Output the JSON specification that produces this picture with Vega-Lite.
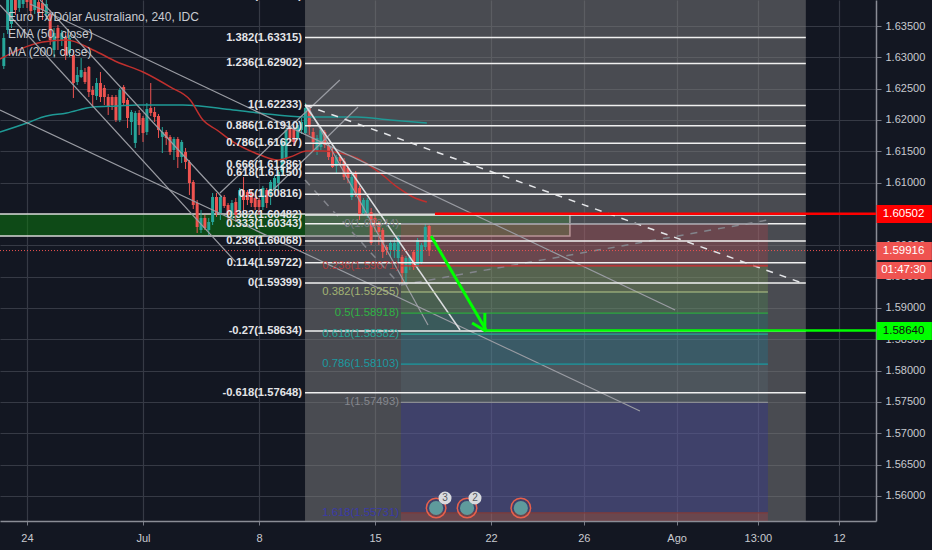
{
  "$schema": "https://vega.github.io/schema/vega-lite/v6.json",
  "width": 876,
  "height": 521,
  "autosize": "none",
  "padding": {"left": 0, "top": 0, "right": 56, "bottom": 29},
  "background": "#131722",
  "config": {"view": {"stroke": null}, "font": "Liberation Sans"},
  "datasets": {
    "candles": [
      {"bar":-6,"o":1.62862,"h":1.63388,"l":1.62814,"c":1.63309},
      {"bar":-5,"o":1.63436,"h":1.63995,"l":1.63372,"c":1.63915},
      {"bar":-4,"o":1.63532,"h":1.63995,"l":1.63468,"c":1.63915},
      {"bar":-3,"o":1.63995,"h":1.64043,"l":1.63676,"c":1.63755},
      {"bar":-2,"o":1.63787,"h":1.64043,"l":1.63723,"c":1.63995},
      {"bar":-1,"o":1.63851,"h":1.64075,"l":1.63787,"c":1.64043},
      {"bar":0,"o":1.64043,"h":1.64075,"l":1.63787,"c":1.63883},
      {"bar":1,"o":1.63995,"h":1.64043,"l":1.63644,"c":1.63739},
      {"bar":2,"o":1.63755,"h":1.63995,"l":1.63692,"c":1.63915},
      {"bar":3,"o":1.63883,"h":1.63947,"l":1.63628,"c":1.63708},
      {"bar":4,"o":1.63867,"h":1.63915,"l":1.63596,"c":1.63755},
      {"bar":5,"o":1.63692,"h":1.63915,"l":1.63596,"c":1.63851},
      {"bar":6,"o":1.63692,"h":1.63755,"l":1.63197,"c":1.63277},
      {"bar":7,"o":1.63117,"h":1.63468,"l":1.63005,"c":1.63388},
      {"bar":8,"o":1.63468,"h":1.63516,"l":1.63117,"c":1.63309},
      {"bar":9,"o":1.63277,"h":1.63436,"l":1.63181,"c":1.63388},
      {"bar":10,"o":1.63325,"h":1.63388,"l":1.62957,"c":1.63037},
      {"bar":11,"o":1.63069,"h":1.63356,"l":1.63005,"c":1.63309},
      {"bar":12,"o":1.63037,"h":1.63117,"l":1.62351,"c":1.6259},
      {"bar":13,"o":1.62606,"h":1.62846,"l":1.62558,"c":1.62718},
      {"bar":14,"o":1.62686,"h":1.62989,"l":1.6267,"c":1.62798},
      {"bar":15,"o":1.62766,"h":1.6283,"l":1.62574,"c":1.62606},
      {"bar":16,"o":1.62846,"h":1.62862,"l":1.62367,"c":1.62447},
      {"bar":17,"o":1.62479,"h":1.62542,"l":1.62207,"c":1.62399},
      {"bar":18,"o":1.62383,"h":1.6267,"l":1.62319,"c":1.6259},
      {"bar":19,"o":1.6259,"h":1.62766,"l":1.62287,"c":1.62367},
      {"bar":20,"o":1.62511,"h":1.62558,"l":1.62239,"c":1.62367},
      {"bar":21,"o":1.62367,"h":1.62415,"l":1.6208,"c":1.62207},
      {"bar":22,"o":1.62367,"h":1.62399,"l":1.62159,"c":1.62239},
      {"bar":23,"o":1.62367,"h":1.62399,"l":1.61968,"c":1.62},
      {"bar":24,"o":1.62,"h":1.62511,"l":1.61968,"c":1.62479},
      {"bar":25,"o":1.62527,"h":1.62558,"l":1.62223,"c":1.62271},
      {"bar":26,"o":1.62319,"h":1.62351,"l":1.61872,"c":1.62032},
      {"bar":27,"o":1.61968,"h":1.62159,"l":1.6176,"c":1.62128},
      {"bar":28,"o":1.61633,"h":1.62144,"l":1.61553,"c":1.62112},
      {"bar":29,"o":1.62112,"h":1.62159,"l":1.6176,"c":1.6192},
      {"bar":30,"o":1.62032,"h":1.62064,"l":1.61649,"c":1.61792},
      {"bar":31,"o":1.61808,"h":1.62271,"l":1.6176,"c":1.62175},
      {"bar":32,"o":1.62191,"h":1.6259,"l":1.62064,"c":1.62112},
      {"bar":33,"o":1.62128,"h":1.62207,"l":1.61968,"c":1.62048},
      {"bar":34,"o":1.62064,"h":1.62096,"l":1.61713,"c":1.6184},
      {"bar":35,"o":1.61729,"h":1.61888,"l":1.61473,"c":1.61808},
      {"bar":36,"o":1.61808,"h":1.6184,"l":1.61601,"c":1.61713},
      {"bar":37,"o":1.61729,"h":1.6176,"l":1.61441,"c":1.61489},
      {"bar":38,"o":1.61521,"h":1.61729,"l":1.61361,"c":1.61697},
      {"bar":39,"o":1.61697,"h":1.61729,"l":1.61234,"c":1.61409},
      {"bar":40,"o":1.61409,"h":1.61681,"l":1.61313,"c":1.61649},
      {"bar":41,"o":1.61489,"h":1.61553,"l":1.61218,"c":1.61329},
      {"bar":42,"o":1.61329,"h":1.61361,"l":1.60803,"c":1.60994},
      {"bar":43,"o":1.6101,"h":1.61042,"l":1.60579,"c":1.60643},
      {"bar":44,"o":1.60675,"h":1.60723,"l":1.60196,"c":1.60292},
      {"bar":45,"o":1.60244,"h":1.60563,"l":1.60196,"c":1.60436},
      {"bar":46,"o":1.60436,"h":1.60484,"l":1.60244,"c":1.60276},
      {"bar":47,"o":1.60244,"h":1.60436,"l":1.60164,"c":1.60372},
      {"bar":48,"o":1.60372,"h":1.60835,"l":1.60324,"c":1.60771},
      {"bar":49,"o":1.60771,"h":1.60835,"l":1.60452,"c":1.60515},
      {"bar":50,"o":1.60515,"h":1.60803,"l":1.60404,"c":1.60771},
      {"bar":51,"o":1.60771,"h":1.60803,"l":1.60595,"c":1.60627},
      {"bar":52,"o":1.60643,"h":1.60675,"l":1.60372,"c":1.60484},
      {"bar":53,"o":1.60484,"h":1.60723,"l":1.60404,"c":1.60675},
      {"bar":54,"o":1.60691,"h":1.60755,"l":1.60372,"c":1.60484},
      {"bar":55,"o":1.60563,"h":1.60915,"l":1.60531,"c":1.60883},
      {"bar":56,"o":1.60883,"h":1.6109,"l":1.60531,"c":1.60723},
      {"bar":57,"o":1.60851,"h":1.60883,"l":1.60643,"c":1.60723},
      {"bar":58,"o":1.60835,"h":1.60883,"l":1.60611,"c":1.60675},
      {"bar":59,"o":1.60755,"h":1.60803,"l":1.60563,"c":1.60611},
      {"bar":60,"o":1.60723,"h":1.60755,"l":1.60484,"c":1.60611},
      {"bar":61,"o":1.60611,"h":1.60947,"l":1.60563,"c":1.60915},
      {"bar":62,"o":1.60883,"h":1.60915,"l":1.60595,"c":1.60675},
      {"bar":63,"o":1.60851,"h":1.61042,"l":1.60643,"c":1.6101},
      {"bar":64,"o":1.60883,"h":1.61106,"l":1.60803,"c":1.61074},
      {"bar":65,"o":1.60994,"h":1.61202,"l":1.60883,"c":1.6117},
      {"bar":66,"o":1.6117,"h":1.61681,"l":1.61122,"c":1.61633},
      {"bar":67,"o":1.61393,"h":1.61872,"l":1.61361,"c":1.6184},
      {"bar":68,"o":1.61872,"h":1.61904,"l":1.61649,"c":1.61713},
      {"bar":69,"o":1.61872,"h":1.6192,"l":1.61585,"c":1.61649},
      {"bar":70,"o":1.61713,"h":1.61952,"l":1.61681,"c":1.6192},
      {"bar":71,"o":1.6184,"h":1.62032,"l":1.61776,"c":1.61968},
      {"bar":72,"o":1.61792,"h":1.62271,"l":1.6176,"c":1.62191},
      {"bar":73,"o":1.62191,"h":1.62223,"l":1.6176,"c":1.61888},
      {"bar":74,"o":1.61808,"h":1.61872,"l":1.61521,"c":1.61649},
      {"bar":75,"o":1.61521,"h":1.6176,"l":1.61441,"c":1.61713},
      {"bar":76,"o":1.61569,"h":1.61872,"l":1.61521,"c":1.6184},
      {"bar":77,"o":1.61808,"h":1.6184,"l":1.61553,"c":1.61601},
      {"bar":78,"o":1.61601,"h":1.61633,"l":1.61361,"c":1.61409},
      {"bar":79,"o":1.61409,"h":1.61569,"l":1.61234,"c":1.6125},
      {"bar":80,"o":1.61266,"h":1.61441,"l":1.61154,"c":1.61409},
      {"bar":81,"o":1.61409,"h":1.61441,"l":1.61282,"c":1.61345},
      {"bar":82,"o":1.61345,"h":1.61393,"l":1.61042,"c":1.6109},
      {"bar":83,"o":1.61234,"h":1.61282,"l":1.60994,"c":1.61074},
      {"bar":84,"o":1.60771,"h":1.61154,"l":1.60723,"c":1.6109},
      {"bar":85,"o":1.61154,"h":1.61186,"l":1.60771,"c":1.60835},
      {"bar":86,"o":1.60915,"h":1.60947,"l":1.60404,"c":1.60484},
      {"bar":87,"o":1.60515,"h":1.60755,"l":1.60484,"c":1.60723},
      {"bar":88,"o":1.60515,"h":1.60755,"l":1.60436,"c":1.60723},
      {"bar":89,"o":1.60531,"h":1.60595,"l":1.60005,"c":1.60037},
      {"bar":90,"o":1.60436,"h":1.60484,"l":1.60212,"c":1.60308},
      {"bar":91,"o":1.60356,"h":1.60388,"l":1.60005,"c":1.60212},
      {"bar":92,"o":1.60244,"h":1.60276,"l":1.59797,"c":1.59893},
      {"bar":93,"o":1.59973,"h":1.60005,"l":1.59845,"c":1.59925},
      {"bar":94,"o":1.59925,"h":1.60085,"l":1.59813,"c":1.60037},
      {"bar":95,"o":1.59925,"h":1.60117,"l":1.59797,"c":1.60037},
      {"bar":96,"o":1.59797,"h":1.60149,"l":1.59733,"c":1.60117},
      {"bar":97,"o":1.59813,"h":1.59845,"l":1.59398,"c":1.59558},
      {"bar":98,"o":1.59558,"h":1.59829,"l":1.59398,"c":1.59797},
      {"bar":99,"o":1.5967,"h":1.59845,"l":1.59606,"c":1.59813},
      {"bar":100,"o":1.59893,"h":1.59925,"l":1.59606,"c":1.59654},
      {"bar":101,"o":1.59654,"h":1.60117,"l":1.59606,"c":1.60085},
      {"bar":102,"o":1.59733,"h":1.60037,"l":1.59701,"c":1.60005},
      {"bar":103,"o":1.59973,"h":1.60356,"l":1.59925,"c":1.60292},
      {"bar":104,"o":1.60308,"h":1.60324,"l":1.59829,"c":1.59916}
    ],
    "ema": [
      {"bar":-7,"price":1.62973},{"bar":4.1,"price":1.63245},{"bar":10.3,"price":1.63277},{"bar":17.1,"price":1.63117},
      {"bar":23.3,"price":1.62926},{"bar":30,"price":1.62766},{"bar":37,"price":1.62527},{"bar":42.2,"price":1.62319},
      {"bar":45.5,"price":1.62},{"bar":49.1,"price":1.6184},{"bar":53.3,"price":1.61649},{"bar":60.3,"price":1.61441},
      {"bar":64.7,"price":1.61361},{"bar":68,"price":1.61409},{"bar":72.4,"price":1.61505},{"bar":76.5,"price":1.61505},
      {"bar":80.9,"price":1.61473},{"bar":85.3,"price":1.61393},{"bar":91.3,"price":1.61154},{"bar":95.7,"price":1.60931},
      {"bar":99.8,"price":1.60771},{"bar":103.4,"price":1.60691}
    ],
    "ma": [
      {"bar":-7,"price":1.61808},{"bar":0,"price":1.61952},{"bar":4.1,"price":1.62048},{"bar":10.3,"price":1.62112},
      {"bar":17.1,"price":1.62207},{"bar":23.3,"price":1.62223},{"bar":28.4,"price":1.62239},{"bar":40.3,"price":1.62239},
      {"bar":53.3,"price":1.62159},{"bar":64.7,"price":1.6208},{"bar":73.2,"price":1.62048},{"bar":85.3,"price":1.62048},
      {"bar":93.9,"price":1.62},{"bar":103.4,"price":1.61952}
    ],
    "trendGray": [
      {"bar":-7,"price":1.62159,"bar2":158.5,"price2":1.57356},
      {"bar":0.8,"price":1.63851,"bar2":167.6,"price2":1.58968},
      {"bar":-7,"price":1.63835,"bar2":54,"price2":1.59733},
      {"bar":3.4,"price":1.63915,"bar2":50.4,"price2":1.60771},
      {"bar":72.4,"price":1.62239,"bar2":103.7,"price2":1.58728},
      {"bar":49.9,"price":1.60835,"bar2":80.9,"price2":1.62638},
      {"bar":63.6,"price":1.60883,"bar2":85.6,"price2":1.62207}
    ],
    "trendWhite": [
      {"bar":71.9,"price":1.62239,"bar2":112,"price2":1.58648}
    ],
    "trendDashed": [
      {"kind":"main","bar":71.9,"price":1.62239,"bar2":201.2,"price2":1.59382},
      {"kind":"faint","bar":71.9,"price":1.61042,"bar2":96.5,"price2":1.59366},
      {"kind":"faint","bar":96.7,"price":1.59366,"bar2":191.6,"price2":1.60404}
    ],
    "zone": [
      {"bar":71.9,"bar2":201.4,"price":1.65,"price2":1.55}
    ],
    "block": [
      {"bar":-8,"bar2":140.4,"price":1.605,"price2":1.60149}
    ],
    "bands": [
      {"band":"0.236","bar":96.7,"bar2":191.6,"price":1.60344,"price2":1.59671},
      {"band":"0.382","bar":96.7,"bar2":191.6,"price":1.59671,"price2":1.59255},
      {"band":"0.5","bar":96.7,"bar2":191.6,"price":1.59255,"price2":1.58918},
      {"band":"0.618","bar":96.7,"bar2":191.6,"price":1.58918,"price2":1.58582},
      {"band":"0.786","bar":96.7,"bar2":191.6,"price":1.58582,"price2":1.58103},
      {"band":"1","bar":96.7,"bar2":191.6,"price":1.58103,"price2":1.57493},
      {"band":"1.618","bar":96.7,"bar2":191.6,"price":1.57493,"price2":1.55731},
      {"band":"2.618","bar":96.7,"bar2":191.6,"price":1.55731,"price2":1.556}
    ],
    "fib": [
      {"bar":71.9,"bar2":201.4,"price":1.63984,"label":"1.618(1.63984)"},
      {"bar":71.9,"bar2":201.4,"price":1.63315,"label":"1.382(1.63315)"},
      {"bar":71.9,"bar2":201.4,"price":1.62902,"label":"1.236(1.62902)"},
      {"bar":71.9,"bar2":201.4,"price":1.62233,"label":"1(1.62233)"},
      {"bar":71.9,"bar2":201.4,"price":1.6191,"label":"0.886(1.61910)"},
      {"bar":71.9,"bar2":201.4,"price":1.61627,"label":"0.786(1.61627)"},
      {"bar":71.9,"bar2":201.4,"price":1.61286,"label":"0.666(1.61286)"},
      {"bar":71.9,"bar2":201.4,"price":1.6115,"label":"0.618(1.61150)"},
      {"bar":71.9,"bar2":201.4,"price":1.60816,"label":"0.5(1.60816)"},
      {"bar":71.9,"bar2":201.4,"price":1.60482,"label":"0.382(1.60482)"},
      {"bar":71.9,"bar2":201.4,"price":1.60343,"label":"0.333(1.60343)"},
      {"bar":71.9,"bar2":201.4,"price":1.60068,"label":"0.236(1.60068)"},
      {"bar":71.9,"bar2":201.4,"price":1.59722,"label":"0.114(1.59722)"},
      {"bar":71.9,"bar2":201.4,"price":1.59399,"label":"0(1.59399)"},
      {"bar":71.9,"bar2":201.4,"price":1.58634,"label":"-0.27(1.58634)"},
      {"bar":71.9,"bar2":201.4,"price":1.57648,"label":"-0.618(1.57648)"}
    ],
    "fib2": [
      {"level":"0","bar":96.7,"bar2":191.6,"price":1.60344,"label":"0(1.60344)"},
      {"level":"0.236","bar":96.7,"bar2":191.6,"price":1.59671,"label":"0.236(1.59671)"},
      {"level":"0.382","bar":96.7,"bar2":191.6,"price":1.59255,"label":"0.382(1.59255)"},
      {"level":"0.5","bar":96.7,"bar2":191.6,"price":1.58918,"label":"0.5(1.58918)"},
      {"level":"0.618","bar":96.7,"bar2":191.6,"price":1.58582,"label":"0.618(1.58582)"},
      {"level":"0.786","bar":96.7,"bar2":191.6,"price":1.58103,"label":"0.786(1.58103)"},
      {"level":"1","bar":96.7,"bar2":191.6,"price":1.57493,"label":"1(1.57493)"},
      {"level":"1.618","bar":96.7,"bar2":191.6,"price":1.55731,"label":"1.618(1.55731)"}
    ],
    "arrow": [
      {"bar":104.5,"price":1.60149,"bar2":118.7,"price2":1.58648},
      {"bar":118.4,"price":1.5892,"bar2":118.4,"price2":1.58628},
      {"bar":115.1,"price":1.5876,"bar2":118.7,"price2":1.58628}
    ],
    "legendText": [
      {"bar":-4.9,"price":1.63644,"label":"Euro Fx/Dólar Australiano, 240, IDC"},
      {"bar":-4.9,"price":1.63372,"label":"EMA (50, close)"},
      {"bar":-4.9,"price":1.63085,"label":"MA (200, close)"}
    ],
    "tags": [
      {"tag":"sl","bar":219.7,"bar2":234,"price":1.60643,"price2":1.60356,"mid":1.60502,"label":"1.60502"},
      {"tag":"last","bar":219.7,"bar2":234,"price":1.60053,"price2":1.59765,"mid":1.59916,"label":"1.59916"},
      {"tag":"last","bar":219.7,"bar2":234,"price":1.59733,"price2":1.59462,"mid":1.59598,"label":"01:47:30"},
      {"tag":"tp","bar":219.7,"bar2":234,"price":1.58776,"price2":1.58489,"mid":1.5864,"label":"1.58640"}
    ],
    "events": [
      {"bar":105.8,"price":1.55808},
      {"bar":113.8,"price":1.55808},
      {"bar":127.7,"price":1.55808}
    ],
    "badges": [
      {"bar":108.1,"price":1.55967,"label":"3"},
      {"bar":115.85,"price":1.55967,"label":"2"}
    ]
  },
  "encoding": {
    "x": {
      "field": "bar",
      "type": "quantitative",
      "scale": {"domain": [-6.98, 219.55], "nice": false, "zero": false},
      "axis": {
        "title": null,
        "values": [0, 30, 60, 90, 120, 144, 168, 189, 210],
        "labelExpr": "{'0':'24','30':'Jul','60':'8','90':'15','120':'22','144':'26','168':'Ago','189':'13:00','210':'12'}[datum.value]",
        "labelColor": "#c8cad0",
        "labelFontSize": 11,
        "labelPadding": 7,
        "labelOverlap": false,
        "tickColor": "#787b86",
        "tickSize": 4,
        "domainColor": "#8a8d96",
        "domainWidth": 1.5,
        "grid": true,
        "gridColor": "#363a45",
        "gridWidth": 1.2
      }
    },
    "y": {
      "field": "price",
      "type": "quantitative",
      "scale": {"domain": [1.556, 1.63915], "nice": false, "zero": false},
      "axis": {
        "title": null,
        "orient": "right",
        "values": [1.56, 1.565, 1.57, 1.575, 1.58, 1.585, 1.59, 1.595, 1.6, 1.605, 1.61, 1.615, 1.62, 1.625, 1.63, 1.635],
        "format": ".5f",
        "labelColor": "#c8cad0",
        "labelFontSize": 11,
        "labelPadding": 4,
        "tickColor": "#787b86",
        "tickSize": 5,
        "domainColor": "#8a8d96",
        "domainWidth": 1.5,
        "grid": true,
        "gridColor": "#363a45",
        "gridWidth": 1.2
      }
    }
  },
  "resolve": {"scale": {"color": "independent"}},
  "layer": [
    {
      "data": {"name": "block"},
      "mark": {"type": "rect", "fill": "#0a7d0c", "fillOpacity": 0.5, "stroke": "#d8d8d8", "strokeWidth": 1.5, "clip": true},
      "encoding": {"x2": {"field": "bar2"}, "y2": {"field": "price2"}}
    },
    {
      "data": {"name": "zone"},
      "mark": {"type": "rect", "fill": "#808080", "fillOpacity": 0.5, "clip": true},
      "encoding": {"x2": {"field": "bar2"}, "y2": {"field": "price2"}}
    },
    {
      "data": {"name": "bands"},
      "mark": {"type": "rect", "opacity": 0.2, "clip": true},
      "encoding": {
        "x2": {"field": "bar2"},
        "y2": {"field": "price2"},
        "color": {
          "field": "band",
          "type": "nominal",
          "legend": null,
          "scale": {
            "domain": ["0.236", "0.382", "0.5", "0.618", "0.786", "1", "1.618", "2.618"],
            "range": ["#f23645", "#8bc34a", "#4caf50", "#009688", "#0097c0", "#607d8b", "#1a1ad0", "#f23645"]
          }
        }
      }
    },
    {
      "data": {"name": "candles"},
      "mark": {"type": "rule", "strokeWidth": 1, "clip": true},
      "encoding": {
        "y": {"field": "l", "type": "quantitative", "scale": {"domain": [1.556, 1.63915], "nice": false, "zero": false}},
        "y2": {"field": "h"},
        "color": {"condition": {"test": "datum.c < datum.o", "value": "#ef5350"}, "value": "#26a69a"}
      }
    },
    {
      "data": {"name": "candles"},
      "mark": {"type": "rule", "strokeWidth": 3, "clip": true},
      "encoding": {
        "y": {"field": "o", "type": "quantitative", "scale": {"domain": [1.556, 1.63915], "nice": false, "zero": false}},
        "y2": {"field": "c"},
        "color": {"condition": {"test": "datum.c < datum.o", "value": "#ef5350"}, "value": "#26a69a"}
      }
    },
    {
      "data": {"name": "ma"},
      "mark": {"type": "line", "color": "#1f9a96", "strokeWidth": 1.5, "interpolate": "monotone", "clip": true}
    },
    {
      "data": {"name": "ema"},
      "mark": {"type": "line", "color": "#c0302e", "strokeWidth": 1.5, "interpolate": "monotone", "clip": true}
    },
    {
      "data": {"name": "trendGray"},
      "mark": {"type": "rule", "color": "#9a9ca3", "strokeWidth": 1.2, "clip": true},
      "encoding": {"x2": {"field": "bar2"}, "y2": {"field": "price2"}}
    },
    {
      "data": {"name": "trendWhite"},
      "mark": {"type": "rule", "color": "#dcdde0", "strokeWidth": 1.5, "clip": true},
      "encoding": {"x2": {"field": "bar2"}, "y2": {"field": "price2"}}
    },
    {
      "data": {"name": "trendDashed"},
      "mark": {"type": "rule", "strokeDash": [7, 7], "strokeWidth": 1.5, "clip": true},
      "encoding": {
        "x2": {"field": "bar2"},
        "y2": {"field": "price2"},
        "color": {
          "field": "kind",
          "type": "nominal",
          "legend": null,
          "scale": {"domain": ["main", "faint"], "range": ["#e4e5e8", "#83858c"]}
        }
      }
    },
    {
      "data": {"name": "fib"},
      "mark": {"type": "rule", "color": "#f0f0f0", "strokeWidth": 1.5, "clip": true},
      "encoding": {"x2": {"field": "bar2"}}
    },
    {
      "data": {"name": "fib"},
      "mark": {"type": "text", "align": "right", "baseline": "middle", "dx": -3, "color": "#e4e5e8", "fontSize": 11.2, "fontWeight": "bold"},
      "encoding": {"text": {"field": "label"}}
    },
    {
      "data": {"name": "fib2"},
      "mark": {"type": "rule", "strokeWidth": 1.2, "clip": true},
      "encoding": {
        "x2": {"field": "bar2"},
        "color": {
          "field": "level",
          "type": "nominal",
          "legend": null,
          "scale": {
            "domain": ["0", "0.236", "0.382", "0.5", "0.618", "0.786", "1", "1.618"],
            "range": ["#787b86", "#d32f2f", "#b5c98a", "#2da83e", "#26a69a", "#1a9aa0", "#8a8c92", "#7e3b3b"]
          }
        }
      }
    },
    {
      "data": {"name": "fib2"},
      "mark": {"type": "text", "align": "right", "baseline": "middle", "dx": -2, "fontSize": 11.3},
      "encoding": {
        "text": {"field": "label"},
        "color": {
          "field": "level",
          "type": "nominal",
          "legend": null,
          "scale": {
            "domain": ["0", "0.236", "0.382", "0.5", "0.618", "0.786", "1", "1.618"],
            "range": ["#7a7c84", "#b03a3a", "#a3b374", "#2fb344", "#26a69a", "#1a9aa0", "#85878e", "#3a3aa8"]
          }
        }
      }
    },
    {
      "data": {"values": [{"price": 1.59916}]},
      "mark": {"type": "rule", "color": "#ef5350", "strokeDash": [1, 2], "strokeWidth": 1},
      "encoding": {"x": {"value": 0}, "x2": {"value": 876}}
    },
    {
      "data": {"values": [{"bar": 105.5, "bar2": 219.55, "price": 1.60502}]},
      "mark": {"type": "rule", "color": "#ff0000", "strokeWidth": 2.5},
      "encoding": {"x2": {"field": "bar2"}}
    },
    {
      "data": {"values": [{"bar": 118.7, "bar2": 219.55, "price": 1.5864}]},
      "mark": {"type": "rule", "color": "#00ff00", "strokeWidth": 2.5},
      "encoding": {"x2": {"field": "bar2"}}
    },
    {
      "data": {"name": "arrow"},
      "mark": {"type": "rule", "color": "#00ff00", "strokeWidth": 3},
      "encoding": {"x2": {"field": "bar2"}, "y2": {"field": "price2"}}
    },
    {
      "data": {"name": "legendText"},
      "mark": {"type": "text", "align": "left", "baseline": "middle", "color": "#c9cbd1", "fontSize": 12},
      "encoding": {"text": {"field": "label"}}
    },
    {
      "data": {"name": "events"},
      "mark": {"type": "point", "filled": true, "color": "#5f9a9c", "size": 200, "opacity": 1}
    },
    {
      "data": {"name": "events"},
      "mark": {"type": "point", "filled": false, "color": "#e8604c", "size": 380, "strokeWidth": 1.5, "opacity": 1}
    },
    {
      "data": {"name": "badges"},
      "mark": {"type": "point", "filled": true, "color": "#d8dade", "size": 170, "opacity": 1}
    },
    {
      "data": {"name": "badges"},
      "mark": {"type": "text", "align": "center", "baseline": "middle", "color": "#555860", "fontSize": 10},
      "encoding": {"text": {"field": "label"}}
    },
    {
      "data": {"name": "tags"},
      "mark": {"type": "rect", "clip": false},
      "encoding": {
        "x2": {"field": "bar2"},
        "y2": {"field": "price2"},
        "color": {
          "field": "tag",
          "type": "nominal",
          "legend": null,
          "scale": {"domain": ["sl", "last", "tp"], "range": ["#ff0000", "#ef5350", "#00ff00"]}
        }
      }
    },
    {
      "data": {"name": "tags"},
      "mark": {"type": "text", "align": "center", "baseline": "middle", "fontSize": 11.5, "dx": 27},
      "encoding": {
        "y": {"field": "mid", "type": "quantitative", "scale": {"domain": [1.556, 1.63915], "nice": false, "zero": false}},
        "text": {"field": "label"},
        "color": {
          "field": "tag",
          "type": "nominal",
          "legend": null,
          "scale": {"domain": ["sl", "last", "tp"], "range": ["#ffffff", "#ffffff", "#111111"]}
        }
      }
    }
  ]
}
